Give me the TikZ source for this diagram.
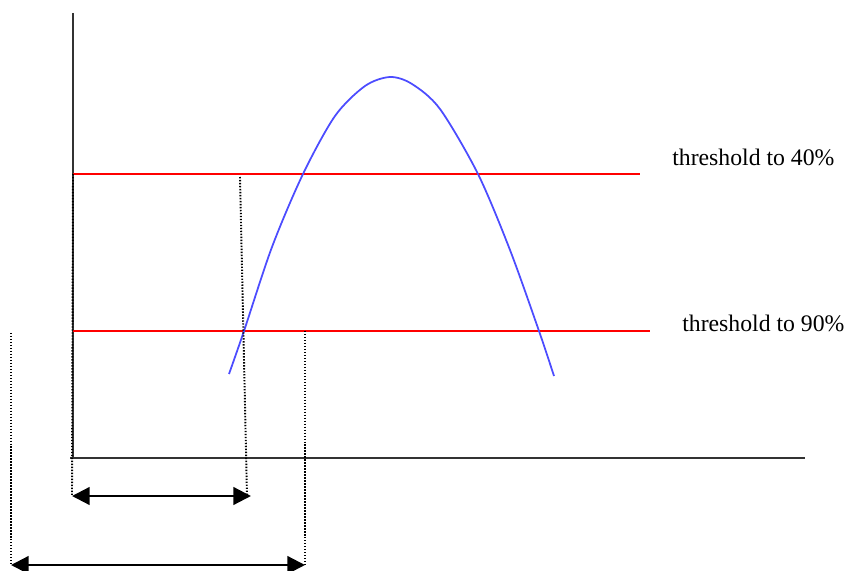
\documentclass[tikz,border=0pt]{standalone}
\usepackage{fontspec}
\setmainfont{Liberation Serif}
\usetikzlibrary{arrows.meta}

\tikzset{
    axis/.style={line width=0.9pt, black!80},
    level/.style={line width=0.7pt, red},
    guide/.style={line width=1.1pt, dash pattern=on 0.8pt off 0.9pt},
    span/.style={line width=1.3pt, {Triangle[length=10pt,width=10pt]}-{Triangle[length=10pt,width=10pt]}},
    lbl/.style={font=\fontsize{13.5}{15}\selectfont, inner sep=0pt, anchor=west}
}

\begin{document}
\begin{tikzpicture}[x=0.02cm, y=-0.02cm]
        \useasboundingbox (0,0) rectangle (850,571);

        % Axes
        \coordinate (top) at (73,13);
        \coordinate (org) at (73,458);
        \coordinate (xend) at (805,458);
        \draw[axis] (top) -- (org);
        \draw[axis] (70,458) -- (xend);

        % Threshold lines
        \coordinate (hiL) at (73,174);
        \coordinate (hiR) at (640,174);
        \coordinate (loL) at (73,331);
        \coordinate (loR) at (650,331);
        \draw[level] (hiL) -- (hiR);
        \draw[level] (loL) -- (loR);
        \node[lbl] (hitxt) at (672,157) {threshold to 40\%};
        \node[lbl] (lotxt) at (682,323) {threshold to 90\%};

        % Pulse
        \draw[blue!70, line width=1pt] plot[smooth, tension=0.5] coordinates {
            (229,374) (244,331) (272,247) (303,174) (335,116)
            (365,86) (390,77) (412,84) (440,109)
            (478,174) (510,250) (539,331) (554,376)};

        % Guides
        \coordinate (g1t) at (240,177);
        \coordinate (g1b) at (247,496);
        \coordinate (g0b) at (72,496);
        \coordinate (g2t) at (305,331);
        \coordinate (g2b) at (305,565);
        \coordinate (g3t) at (11,333);
        \coordinate (g3b) at (11,565);
        \draw[guide] (g1t) -- (g1b);
        \draw[guide] (hiL) -- (g0b);
        \draw[guide] (g2t) -- (g2b);
        \draw[guide] (g3t) -- (g3b);

        % Spans
        \draw[span] (g0b) -- (251,496);
        \draw[span] (g3b) -- (g2b);
    \end{tikzpicture}
\end{document}
